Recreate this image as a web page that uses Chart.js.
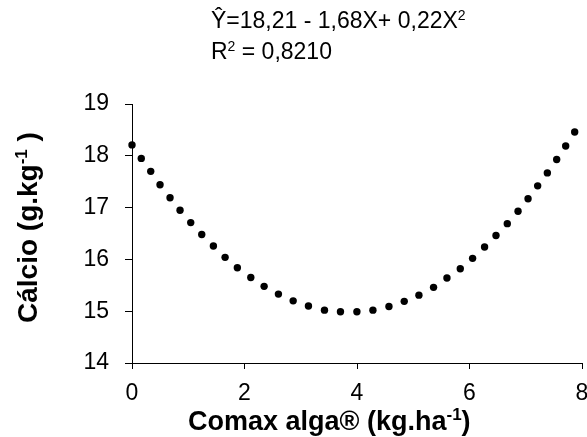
<!DOCTYPE html>
<html>
<head>
<meta charset="utf-8">
<script src="https://cdn.jsdelivr.net/npm/chart.js@4.4.1/dist/chart.umd.min.js"></script>
<style>
    html, body { margin: 0; padding: 0; background: #fff; }
    #wrap { width: 587px; height: 437px; position: relative; }
</style>
</head>
<body>
<div id="wrap"><canvas id="calcioChart"></canvas></div>
<script>
// pontos da linha de tendência
const doseX = [0, 0.165, 0.333, 0.498, 0.676, 0.854, 1.044, 1.240, 1.447, 1.655, 1.873, 2.112, 2.349, 2.603, 2.865, 3.137, 3.422, 3.706, 3.998, 4.283, 4.568, 4.840, 5.101, 5.361, 5.599, 5.836, 6.055, 6.268, 6.471, 6.672, 6.863, 7.041, 7.212, 7.384, 7.550, 7.710, 7.870];
const calcioY = [18.21, 17.95, 17.70, 17.44, 17.19, 16.95, 16.71, 16.48, 16.26, 16.04, 15.84, 15.65, 15.48, 15.33, 15.20, 15.10, 15.02, 14.99, 14.99, 15.02, 15.09, 15.19, 15.31, 15.46, 15.64, 15.82, 16.02, 16.24, 16.46, 16.69, 16.93, 17.17, 17.42, 17.67, 17.93, 18.19, 18.46];
const xTicks = [0, 2, 4, 6, 8];
const yTicks = [14, 15, 16, 17, 18, 19];
const equationLine1 = [['Ŷ=18,21 - 1,68X+ 0,22X', false], ['2', true]];
const equationLine2 = [['R', false], ['2', true], [' = 0,8210', false]];
const xTitle = [['Comax alga® (kg.ha', false], ['-1', true], [')', false]];
const yTitle = [['Cálcio (g.kg', false], ['-1', true], [' )', false]];

const FONT = '"Liberation Sans", Arial, sans-serif';

// desenha texto com sobrescrito, a partir de x (alinhado à esquerda)
function drawParts(ctx, parts, size, x, baseline, weight) {
    parts.forEach(([t, sup]) => {
        ctx.font = `${weight} ${sup ? Math.round(size * 0.62) : size}px ${FONT}`;
        ctx.fillText(t, x, sup ? baseline - size * 0.36 : baseline);
        x += ctx.measureText(t).width;
    });
}

const textPlugin = {
    id: 'textos',
    afterDraw(chart) {
        const ctx = chart.ctx;
        ctx.save();
        ctx.fillStyle = '#000';
        ctx.textAlign = 'left';
        ctx.textBaseline = 'alphabetic';

        // equação
        drawParts(ctx, equationLine1, 23, 211, 28, 'normal');
        drawParts(ctx, equationLine2, 23, 211, 59, 'normal');

        // títulos dos eixos
        drawParts(ctx, xTitle, 27, 188, 430, 'bold');
        ctx.translate(37, 323);
        ctx.rotate(-Math.PI / 2);
        drawParts(ctx, yTitle, 28, 0, 0, 'bold');
        ctx.restore();
    }
};

new Chart(document.getElementById('calcioChart'), {
    type: 'scatter',
    data: {
        datasets: [{
            data: doseX.map((x, i) => ({ x: x, y: calcioY[i] })),
            backgroundColor: '#000',
            borderColor: '#000',
            pointRadius: 3.7,
            pointHoverRadius: 3.7,
            borderWidth: 0,
            clip: false
        }]
    },
    options: {
        responsive: true,
        maintainAspectRatio: false,
        animation: false,
        layout: { padding: { left: 0, right: 5, top: 104, bottom: 0 } },
        plugins: { legend: { display: false }, tooltip: { enabled: false } },
        scales: {
            x: {
                type: 'linear',
                min: 0, max: 8,
                afterBuildTicks: s => { s.ticks = xTicks.map(v => ({ value: v })); },
                afterFit: s => { s.height = 74; s.paddingLeft = 0; s.paddingRight = 0; },
                grid: { drawOnChartArea: false, drawTicks: true, tickLength: 6, color: '#000' },
                border: { color: '#000', width: 1 },
                ticks: { color: '#000', padding: 11, font: { family: FONT, size: 23 } }
            },
            y: {
                min: 14, max: 19,
                afterBuildTicks: s => { s.ticks = yTicks.map(v => ({ value: v })); },
                afterFit: s => { s.width = 132; s.paddingTop = 0; s.paddingBottom = 0; },
                grid: { drawOnChartArea: false, drawTicks: true, tickLength: 7, color: '#000' },
                border: { color: '#000', width: 1 },
                ticks: { color: '#000', padding: 16, font: { family: FONT, size: 23 } }
            }
        }
    },
    plugins: [textPlugin]
});
</script>
</body>
</html>
